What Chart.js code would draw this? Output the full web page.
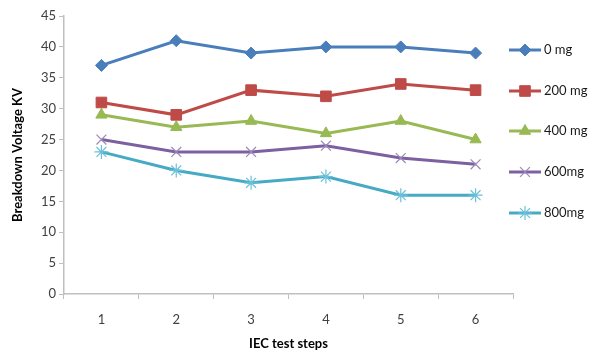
<!DOCTYPE html>
<html>
<head>
<meta charset="utf-8">
<title>Breakdown Voltage</title>
<script src="https://cdn.jsdelivr.net/npm/chart.js@4"></script>
<style>
    html, body { margin: 0; padding: 0; background: #ffffff; }
    #wrap { width: 590px; height: 355px; position: relative; }
</style>
</head>
<body>
<div id="wrap"><canvas id="voltageChart"></canvas></div>
<script>
// Chart data
const steps = ['1', '2', '3', '4', '5', '6'];
const seriesNames = ['0 mg', '200 mg', '400 mg', '600mg', '800mg'];
const mg0 = [37, 41, 39, 40, 40, 39];
const mg200 = [31, 29, 33, 32, 34, 33];
const mg400 = [29, 27, 28, 26, 28, 25];
const mg600 = [25, 23, 23, 24, 22, 21];
const mg800 = [23, 20, 18, 19, 16, 16];
const yTicks = [0, 5, 10, 15, 20, 25, 30, 35, 40, 45];

const colors = ['#4A7EBB', '#BE4B48', '#98B954', '#7D60A0', '#46AAC5'];
const markerColors = ['#4A7EBB', '#BE4B48', '#98B954', '#9C88BC', '#6CC0D8'];
const markers = ['rectRot', 'rect', 'triangle', 'crossRot', 'star'];
const markerSizes = [6, 7.5, 6.5, 7, 7];
const values = [mg0, mg200, mg400, mg600, mg800];

const font = "Lato, 'Open Sans', sans-serif";

// Legend drawn on the right like the Excel original: line + marker + text
const sideLegend = {
    id: 'sideLegend',
    afterDraw(chart) {
        const ctx = chart.ctx;
        const x0 = 509, x1 = 541;
        const rowsY = [50, 91, 131, 172, 213];
        chart.data.datasets.forEach((ds, i) => {
            const y = rowsY[i];
            ctx.save();
            ctx.strokeStyle = ds.borderColor;
            ctx.lineWidth = 3;
            ctx.beginPath();
            ctx.moveTo(x0, y);
            ctx.lineTo(x1, y);
            ctx.stroke();
            const opts = {
                pointStyle: ds.pointStyle,
                radius: ds.pointRadius,
                borderWidth: ds.pointBorderWidth,
                rotation: 0
            };
            ctx.fillStyle = ds.pointBackgroundColor;
            ctx.strokeStyle = ds.pointBorderColor;
            ctx.lineWidth = ds.pointBorderWidth;
            Chart.helpers.drawPoint(ctx, opts, (x0 + x1) / 2, y);
            ctx.fillStyle = '#1a1a1a';
            ctx.font = '13px ' + font;
            ctx.textBaseline = 'middle';
            ctx.textAlign = 'left';
            ctx.fillText(ds.label, x1 + 3, y);
            ctx.restore();
        });
    }
};

function buildDatasets() {
    return seriesNames.map((name, i) => {
        const thin = markers[i] === 'crossRot' || markers[i] === 'star';
        return {
            label: name,
            data: values[i],
            borderColor: colors[i],
            backgroundColor: colors[i],
            borderWidth: 3,
            pointStyle: markers[i],
            pointRadius: markerSizes[i],
            pointHoverRadius: markerSizes[i],
            pointBackgroundColor: markerColors[i],
            pointBorderColor: markerColors[i],
            pointBorderWidth: thin ? 1.2 : 1,
            tension: 0
        };
    });
}

const ctx = document.getElementById('voltageChart').getContext('2d');
new Chart(ctx, {
    type: 'line',
    data: {
        labels: steps,
        datasets: buildDatasets()
    },
    plugins: [sideLegend],
    options: {
        responsive: true,
        maintainAspectRatio: false,
        animation: false,
        layout: {
            padding: { top: 16, right: 77, left: 0, bottom: 0 }
        },
        plugins: {
            legend: { display: false },
            tooltip: { enabled: false }
        },
        scales: {
            x: {
                offset: true,
                afterFit: function(scale) { scale.height = 61; },
                border: { display: true, color: '#BFBFBF', width: 1.5 },
                grid: {
                    offset: true,
                    drawOnChartArea: false,
                    drawTicks: true,
                    tickLength: 5,
                    color: '#BFBFBF'
                },
                ticks: {
                    color: '#404040',
                    padding: 13,
                    font: { family: font, size: 13 }
                },
                title: {
                    display: true,
                    text: 'IEC test steps',
                    color: '#000000',
                    padding: { top: 0, bottom: 3 },
                    font: { family: font, size: 13, weight: 'bold' }
                }
            },
            y: {
                min: 0,
                max: 45,
                afterFit: function(scale) { scale.width = 64; },
                afterBuildTicks: function(scale) {
                    scale.ticks = yTicks.map(v => ({ value: v }));
                },
                border: { display: true, color: '#BFBFBF', width: 1.5 },
                grid: {
                    drawOnChartArea: false,
                    drawTicks: true,
                    tickLength: 5,
                    color: '#BFBFBF'
                },
                ticks: {
                    color: '#404040',
                    padding: 3,
                    font: { family: font, size: 13 }
                },
                title: {
                    display: true,
                    text: 'Breakdown Voltage KV',
                    color: '#000000',
                    padding: { top: 10, bottom: 0 },
                    font: { family: font, size: 13, weight: 'bold' }
                }
            }
        }
    }
});
</script>
</body>
</html>
